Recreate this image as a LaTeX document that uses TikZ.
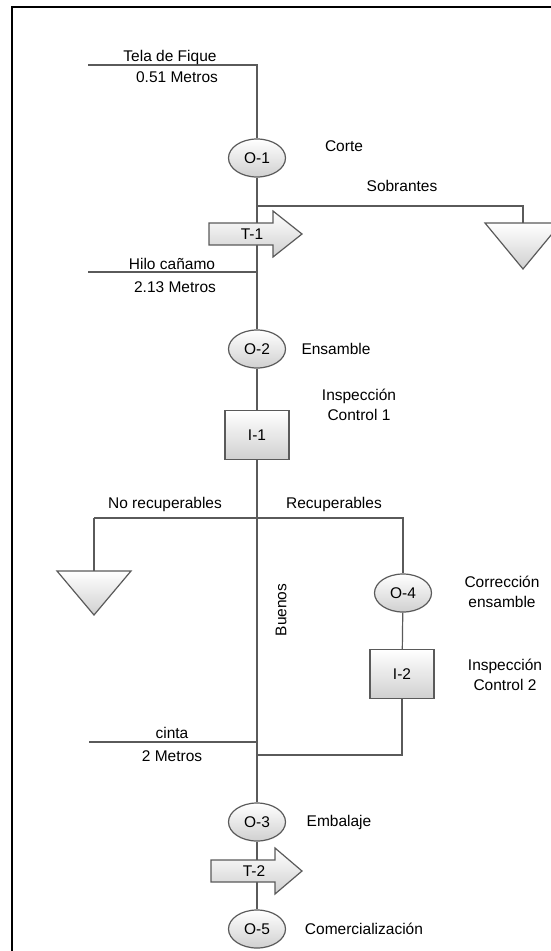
\documentclass[tikz,border=0pt]{standalone}
\usepackage{fontspec}
\setmainfont{Liberation Sans}
\usetikzlibrary{backgrounds,calc,shapes.geometric}
\definecolor{linec}{HTML}{5A5A5A}
\definecolor{shadec}{HTML}{D0D0D0}
\tikzset{
  conn/.style={draw=linec, line width=1.2pt},
  shapefill/.style={draw=linec, line width=1.2pt, top color=white, bottom color=shadec},
  op/.style={shapefill, ellipse, minimum width=57pt, minimum height=38pt, inner sep=0pt},
  insp/.style={shapefill, rectangle, minimum width=64pt, minimum height=49pt, inner sep=0pt},
  lbl/.style={inner sep=0pt, text=black, align=center, font=\fontsize{15.5}{20}\selectfont},
  tlbl/.style={inner sep=0pt, text=black, font=\fontsize{15.5}{18}\selectfont},
}
\begin{document}
\begin{tikzpicture}[x=1pt,y=-1pt]
\useasboundingbox (0,0) rectangle (551,951);
\draw[line width=2pt, black] (12,960) -- (12,7) -- (560,7);

% operations and inspections
\node[op] (o1) at (257,158) {\fontsize{15.5}{18}\selectfont O-1};
\node[op] (o2) at (257,349) {\fontsize{15.5}{18}\selectfont O-2};
\node[insp] (i1) at (257,435) {\fontsize{15.5}{18}\selectfont I-1};
\node[op] (o4) at (403,593) {\fontsize{15.5}{18}\selectfont O-4};
\node[insp] (i2) at (402,674) {\fontsize{15.5}{18}\selectfont I-2};
\node[op] (o3) at (257,822) {\fontsize{15.5}{18}\selectfont O-3};
\node[op] (o5) at (257,929) {\fontsize{15.5}{18}\selectfont O-5};

% transports (arrows)
\draw[shapefill] (209,223) -- (273,223) -- (273,211) -- (302,234) -- (273,257) -- (273,245) -- (209,245) -- cycle;
\node[tlbl] (t1) at (252,234) {T-1};
\draw[shapefill] (211,860) -- (275,860) -- (275,848) -- (302,871) -- (275,894) -- (275,882) -- (211,882) -- cycle;
\node[tlbl] (t2) at (254,871) {T-2};

% storages (triangles)
\draw[shapefill] (485,223) -- (561,223) -- (523,269) -- cycle;
\coordinate (s1) at (523,223);
\draw[shapefill] (57,571) -- (131,571) -- (94,615) -- cycle;
\coordinate (s2) at (94,571);

% free ends
\coordinate (tela) at (88,65);
\coordinate (hilo) at (88,272);
\coordinate (cinta) at (89,742);
\coordinate (sob) at (257,206);
\coordinate (br) at (257,518);
\coordinate (ret) at (257,755);

\begin{scope}[on background layer]
\draw[conn] (tela) -- (tela -| o1) -- (o1);
\draw[conn] (o1) -- (o2);
\draw[conn] (sob) -- (sob -| s1) -- (s1);
\draw[conn] (hilo) -- (hilo -| o1);
\draw[conn] (o2) -- (i1);
\draw[conn] (i1) -- (o3);
\draw[conn] (br -| s2) -- (br -| o4) -- (o4);
\draw[conn] (br -| s2) -- (s2);
\draw[conn] (o4) -- (i2);
\draw[conn] (i2) -- (ret -| i2) -- (ret);
\draw[conn] (cinta) -- (cinta -| o3);
\draw[conn] (o3) -- (o5);
\end{scope}

% labels
\node[lbl] (l1) at (170,57) {Tela de Fique};
\node[lbl] (l2) at (177,77) {0.51 Metros};
\node[lbl] (l3) at (344,146) {Corte};
\node[lbl] (l4) at (402,186) {Sobrantes};
\node[lbl] (l5) at (172,264) {Hilo cañamo};
\node[lbl] (l6) at (175,287) {2.13 Metros};
\node[lbl] (l7) at (336,349) {Ensamble};
\node[lbl] (l8) at (359,405) {Inspección\\Control 1};
\node[lbl] (l9) at (165,504) {No recuperables};
\node[lbl] (l10) at (334,504) {Recuperables};
\node[lbl] (l11) at (502,592) {Corrección\\ensamble};
\node[lbl, rotate=90] (l12) at (281,610) {Buenos};
\node[lbl] (l13) at (505,675) {Inspección\\Control 2};
\node[lbl] (l14) at (172,733) {cinta};
\node[lbl] (l15) at (172,756) {2 Metros};
\node[lbl] (l16) at (339,822) {Embalaje};
\node[lbl] (l17) at (364,929) {Comercialización};
\end{tikzpicture}
\end{document}
